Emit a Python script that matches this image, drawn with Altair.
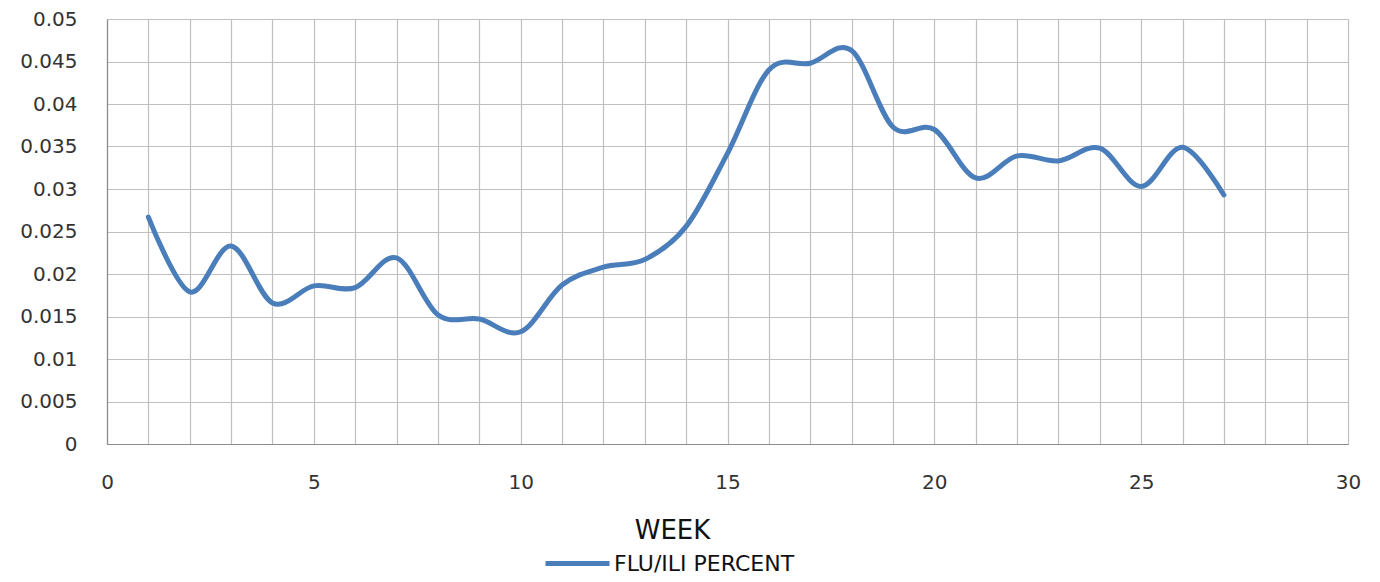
import altair as alt
import pandas as pd

weeks = list(range(1, 28))
flu_ili = [0.0267, 0.0179, 0.0233, 0.0166, 0.0186, 0.0184, 0.0219, 0.0152, 0.0147, 0.0132,
           0.0187, 0.0208, 0.0217, 0.0256, 0.0342, 0.0440, 0.0448, 0.0463, 0.0373, 0.0370,
           0.0313, 0.0339, 0.0333, 0.0348, 0.0303, 0.0349, 0.0293]
series_name = "FLU/ILI PERCENT"
x_ticks = list(range(0, 31))
y_ticks = [0, 0.005, 0.01, 0.015, 0.02, 0.025, 0.03, 0.035, 0.04, 0.045, 0.05]

df = pd.DataFrame({"week": weeks, "value": flu_ili, "series": [series_name] * len(weeks)})

FONT = "DejaVu Sans"
GRID = "#bfbfbf"

chart = alt.Chart(df).mark_line(interpolate="cardinal", strokeWidth=5, strokeCap="round").encode(
    x=alt.X("week:Q", scale=alt.Scale(domain=[0, 30], nice=False),
            axis=alt.Axis(values=x_ticks, title="WEEK",
                          labelExpr="datum.value % 5 == 0 ? datum.label : ''",
                          grid=True, gridColor=GRID, gridWidth=1.2,
                          domainColor="#8c8c8c", domainWidth=1.2, ticks=False,
                          labelPadding=28, labelFont=FONT, labelFontSize=20, labelColor="#333333",
                          labelFlush=False,
                          titleFont=FONT, titleFontSize=26, titleFontWeight="normal", titleColor="#111111",
                          titleX=565, titleY=86, titleAlign="center", titleBaseline="middle")),
    y=alt.Y("value:Q", scale=alt.Scale(domain=[0, 0.05], nice=False),
            axis=alt.Axis(values=y_ticks, title=None, format="~g",
                          grid=True, gridColor=GRID, gridWidth=1.2,
                          domainColor="#8c8c8c", domainWidth=1.2, ticks=False,
                          labelPadding=30, labelFont=FONT, labelFontSize=20, labelColor="#333333",
                          labelFlush=False)),
    color=alt.Color("series:N", scale=alt.Scale(range=["#4a7ebb"]),
                    legend=alt.Legend(title=None, orient="none", legendX=436, legendY=510,
                                      symbolType="stroke", symbolSize=4096, symbolStrokeWidth=5,
                                      labelFont=FONT, labelFontSize=22, labelColor="#111111",
                                      labelLimit=0, padding=0, labelOffset=2)),
).properties(
    width=1241, height=425,
    padding={"left": 99, "top": 11, "right": 24, "bottom": 130},
    autosize=alt.AutoSizeParams(type="none"),
).configure_view(stroke=None).configure(background="white")

chart.save("out.html", embed_options={"renderer": "svg", "actions": False})
